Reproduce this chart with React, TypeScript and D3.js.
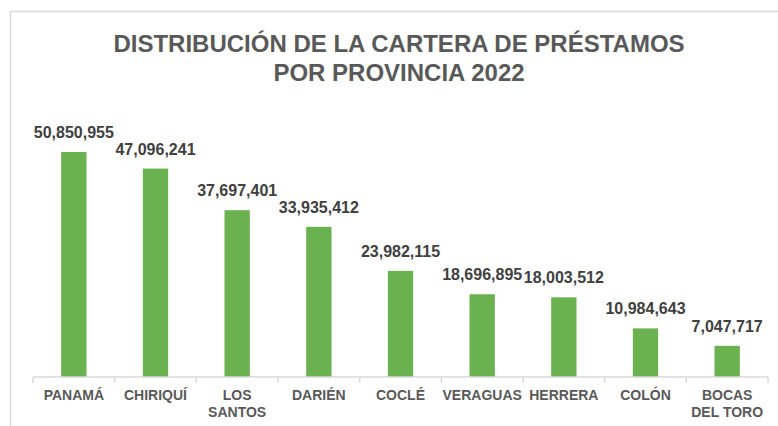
import React, { useRef, useEffect } from "react";
import { select, scaleBand, scaleLinear, axisBottom, format } from "d3";

// data
const provinces = ["PANAMÁ", "CHIRIQUÍ", "LOS\nSANTOS", "DARIÉN", "COCLÉ", "VERAGUAS", "HERRERA", "COLÓN", "BOCAS\nDEL TORO"];
const loans = [50850955, 47096241, 37697401, 33935412, 23982115, 18696895, 18003512, 10984643, 7047717];
const titleLines = ["DISTRIBUCIÓN DE LA CARTERA DE PRÉSTAMOS", "POR PROVINCIA 2022"];
const yMax = 60000000;

const App = () => {
    const svgRef = useRef<SVGSVGElement>(null);

    const width = 778;
    const height = 426;
    const margin = { top: 111.5, right: 10, bottom: 49, left: 33 };

    useEffect(() => {
        const svg = select(svgRef.current);
        svg.selectAll("*").remove();

        // chart border (extends past the right and bottom edge)
        svg.append("rect")
            .attr("x", 10.5).attr("y", 11.5)
            .attr("width", 800).attr("height", 500)
            .attr("fill", "white")
            .attr("stroke", "#d9d9d9").attr("stroke-width", 1.5);

        // title
        svg.append("g").selectAll("text")
            .data(titleLines)
            .enter()
            .append("text")
            .attr("x", 399)
            .attr("y", (d, i) => 52 + i * 29)
            .attr("text-anchor", "middle")
            .attr("font-family", "Liberation Sans, Arial, sans-serif")
            .attr("font-weight", "bold")
            .attr("font-size", 24)
            .attr("fill", "#595959")
            .text(d => d);

        const xScale = scaleBand()
            .domain(provinces)
            .range([margin.left, width - margin.right])
            .paddingInner(0.69)
            .paddingOuter(0.345);

        const yScale = scaleLinear()
            .domain([0, yMax])
            .range([height - margin.bottom, margin.top]);

        // bars
        svg.selectAll(".bar")
            .data(loans)
            .enter()
            .append("rect")
            .attr("class", "bar")
            .attr("x", (d, i) => xScale(provinces[i]))
            .attr("y", d => yScale(d))
            .attr("width", xScale.bandwidth())
            .attr("height", d => yScale(0) - yScale(d))
            .attr("fill", "#6ab150");

        // value labels
        svg.selectAll(".val")
            .data(loans)
            .enter()
            .append("text")
            .attr("class", "val")
            .attr("x", (d, i) => xScale(provinces[i]) + xScale.bandwidth() / 2)
            .attr("y", d => yScale(d) - 14)
            .attr("text-anchor", "middle")
            .attr("font-family", "Liberation Sans, Arial, sans-serif")
            .attr("font-weight", "bold")
            .attr("font-size", 16)
            .attr("fill", "#404040")
            .text(d => format(",")(d));

        // x axis with ticks between categories
        const step = xScale.step();
        const x0 = margin.left;
        const ax = svg.append("g").attr("transform", "translate(0," + yScale(0) + ")");
        ax.append("line")
            .attr("x1", x0).attr("x2", width - margin.right)
            .attr("stroke", "#d9d9d9").attr("stroke-width", 1.5);
        ax.selectAll(".tick-b")
            .data([...provinces.keys(), provinces.length])
            .enter()
            .append("line")
            .attr("x1", i => x0 + i * step)
            .attr("x2", i => x0 + i * step)
            .attr("y1", 0).attr("y2", 6)
            .attr("stroke", "#d9d9d9").attr("stroke-width", 1.5);

        const xAxis = axisBottom(xScale).tickSize(0).tickPadding(0);
        const gx = svg.append("g")
            .attr("transform", "translate(0," + yScale(0) + ")")
            .call(xAxis);
        gx.select(".domain").remove();
        gx.selectAll(".tick text").remove();
        gx.selectAll(".tick").each(function (d: any) {
            const t = select(this).append("text")
                .attr("text-anchor", "middle")
                .attr("font-family", "Liberation Sans, Arial, sans-serif")
                .attr("font-weight", "bold")
                .attr("font-size", 14)
                .attr("fill", "#595959");
            d.split("\n").forEach((s: string, k: number) => {
                t.append("tspan").attr("x", 0).attr("y", 23 + k * 17).text(s);
            });
        });
    }, []);

    return (
        <div className="chart">
            <svg ref={svgRef} width={width} height={height}
                style={{ position: "absolute", left: 0, top: 0 }}>
            </svg>
        </div>
    );
}

export default App;
